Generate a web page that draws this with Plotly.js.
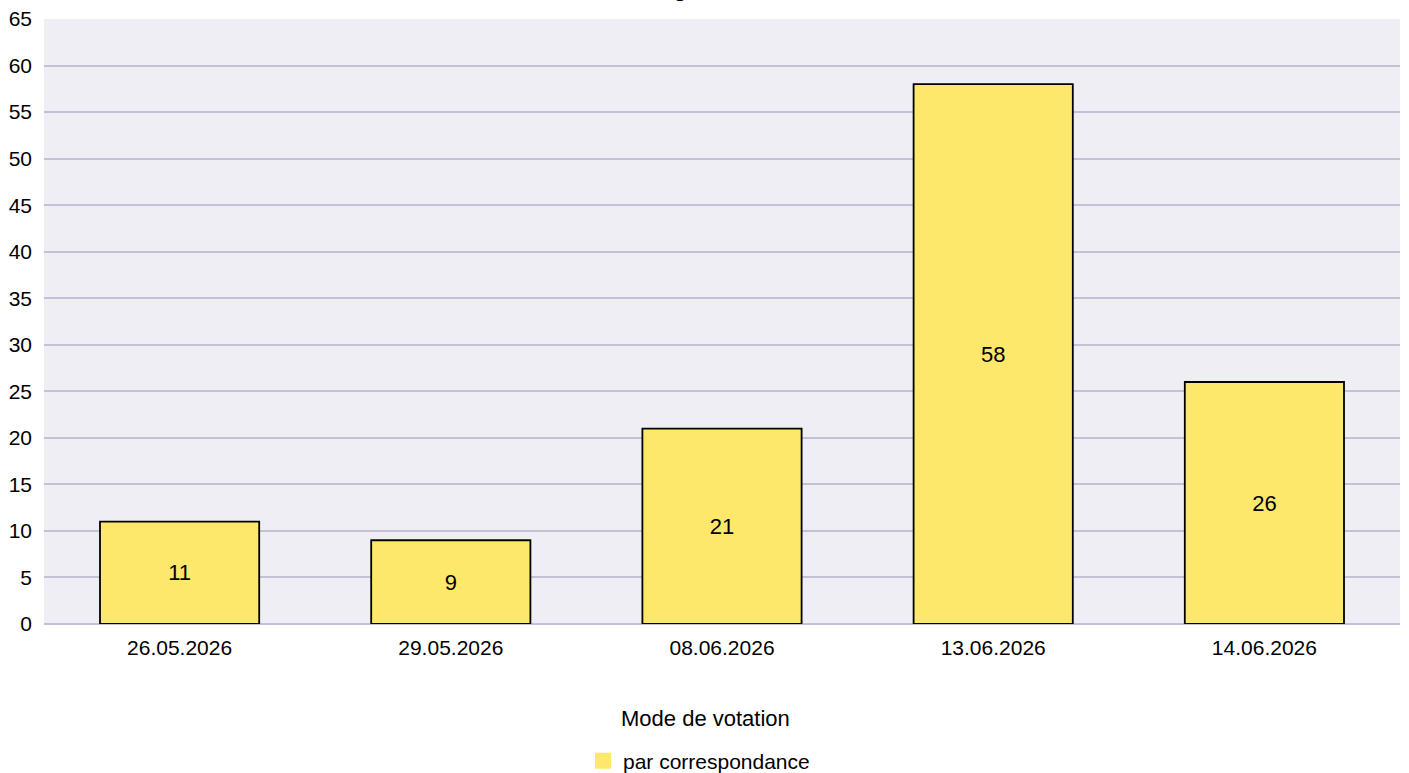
<!DOCTYPE html>
<html>
<head>
<meta charset="utf-8">
<script src="https://cdn.plot.ly/plotly-3.0.1.min.js"></script>
<style>html,body{margin:0;padding:0;background:#fff;}#chart{width:1409px;height:773px;}</style>
</head>
<body>
<div id="chart"></div>
<script>
const categories = ["26.05.2026", "29.05.2026", "08.06.2026", "13.06.2026", "14.06.2026"];
const values = [11, 9, 21, 58, 26];
const seriesName = "par correspondance";
const legendTitle = "Mode de votation";
const chartTitle = "Suffrages émis";
const yTicks = [0, 5, 10, 15, 20, 25, 30, 35, 40, 45, 50, 55, 60, 65];
const barColor = "#fde86c";

const FONT = "Liberation Sans, Arial, sans-serif";

const bars = {
  type: "bar",
  x: categories,
  y: values,
  name: seriesName,
  text: values.map(String),
  textposition: "inside",
  insidetextanchor: "middle",
  textangle: 0,
  textfont: {family: FONT, size: 22, color: "#000"},
  marker: {color: barColor, line: {color: "#000", width: 1.8}},
  width: 0.587,
  showlegend: false,
  hoverinfo: "x+y"
};

const legendProxy = {
  type: "scatter",
  mode: "markers",
  x: [null], y: [null],
  name: seriesName,
  marker: {symbol: "square", size: 16, color: barColor, line: {width: 0}},
  showlegend: true
};

const layout = {
  width: 1409, height: 773,
  margin: {l: 44, r: 9, t: 19, b: 149},
  paper_bgcolor: "#ffffff",
  plot_bgcolor: "#efeef5",
  font: {family: FONT, size: 21, color: "#000"},
  xaxis: {
    type: "category",
    showgrid: false,
    zeroline: false,
    showline: false,
    ticks: "",
    ticklabelstandoff: 9,
    tickfont: {size: 21},
    range: [-0.5, 4.5],
    automargin: false
  },
  yaxis: {
    range: [0, 65],
    tickvals: yTicks,
    ticktext: yTicks.map(String),
    showgrid: true,
    gridcolor: "#c3c1d8",
    gridwidth: 2,
    zeroline: true,
    zerolinecolor: "#c3c1d8",
    zerolinewidth: 2,
    showline: false,
    ticks: "",
    ticklabelstandoff: 11,
    tickfont: {size: 21},
    automargin: false
  },
  showlegend: true,
  legend: {
    orientation: "h",
    x: 0.483, xanchor: "center",
    yref: "container",
    y: 0.0155, yanchor: "middle",
    font: {size: 21}
  },
  annotations: [
    {
      text: "<b>" + chartTitle + "</b>",
      xref: "paper", yref: "paper",
      x: 0.476, xanchor: "center",
      y: 1.0265, yanchor: "bottom",
      showarrow: false,
      font: {family: FONT, size: 22, color: "#000"}
    },
    {
      text: legendTitle,
      xref: "paper", yref: "paper",
      x: 0.488, xanchor: "center",
      y: -0.157, yanchor: "middle",
      showarrow: false,
      font: {size: 22}
    }
  ]
};

Plotly.newPlot("chart", [bars, legendProxy], layout, {displayModeBar: false, staticPlot: true});
</script>
</body>
</html>
